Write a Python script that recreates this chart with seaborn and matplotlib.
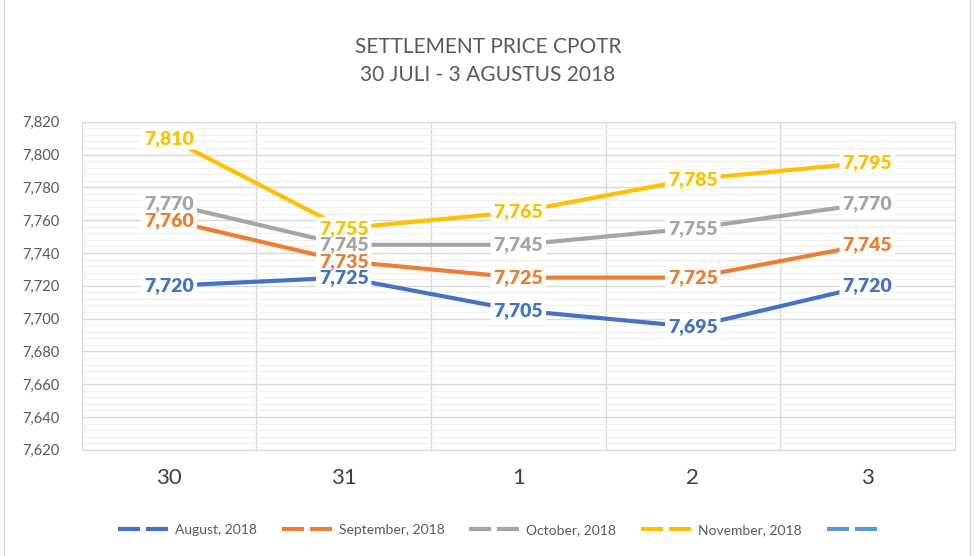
import numpy as np
import pandas as pd
import matplotlib.pyplot as plt
import seaborn as sns
from matplotlib.lines import Line2D
from matplotlib.patches import Rectangle

# Data
days = ['30', '31', '1', '2', '3']
august = [7720, 7725, 7705, 7695, 7720]
september = [7760, 7735, 7725, 7725, 7745]
october = [7770, 7745, 7745, 7755, 7770]
november = [7810, 7755, 7765, 7785, 7795]
series_names = ['August, 2018', 'September, 2018', 'October, 2018', 'November, 2018']
colors = ['#4472C4', '#ED7D31', '#A5A5A5', '#FFC000']

rows = []
for name, vals in zip(series_names, [august, september, october, november]):
    for i, v in enumerate(vals):
        rows.append({'day': i, 'label': days[i], 'price': v, 'series': name})
df = pd.DataFrame(rows)

sns.set_style('white')
plt.rcParams['font.family'] = ['Lato', 'DejaVu Sans']

fig = plt.figure(figsize=(9.76, 5.56), dpi=100)
ax = fig.add_axes([0.084, 0.191, 0.894, 0.590])

sns.lineplot(data=df, x='day', y='price', hue='series', palette=colors,
             linewidth=3, ax=ax, legend=False, zorder=3)

# data labels: white boxes first, then the texts on top of all boxes
for name, col in zip(series_names, colors):
    sub = df[df['series'] == name]
    for _, r in sub.iterrows():
        ax.text(r['day'], r['price'], f"{r['price']:,}", color='white', alpha=0,
                fontsize=14, fontweight='bold', ha='center', va='center', zorder=4,
                bbox=dict(boxstyle='round,pad=0.15', fc='white', ec='none'))
for name, col in zip(series_names, colors):
    sub = df[df['series'] == name]
    for _, r in sub.iterrows():
        ax.text(r['day'], r['price'], f"{r['price']:,}", color=col, fontsize=14,
                fontweight='heavy', ha='center', va='center', zorder=5)

ax.set_xlim(-0.5, 4.5)
ax.set_ylim(7620, 7820)
ax.set_yticks(np.arange(7620, 7821, 20))
ax.set_yticklabels([f'{v:,}' for v in range(7620, 7821, 20)], fontsize=10.5, color='#595959')
ax.set_yticks(np.arange(7620, 7821, 4), minor=True)
ax.set_xticks(range(5))
ax.set_xticklabels(days, fontsize=16, color='#404040')
ax.set_xticks(np.arange(0.5, 4.5, 1), minor=True)
ax.tick_params(axis='both', which='both', length=0)
ax.tick_params(axis='y', pad=16)
ax.tick_params(axis='x', pad=13)
ax.grid(which='major', axis='y', color='#D9D9D9', linewidth=1)
ax.grid(which='minor', axis='y', color='#F0F0F0', linewidth=0.8)
ax.grid(which='minor', axis='x', color='#D9D9D9', linewidth=1)
ax.set_axisbelow(True)
for s in ax.spines.values():
    s.set_color('#D9D9D9')
ax.set_xlabel('')
ax.set_ylabel('')

fig.text(0.5, 0.915, 'SETTLEMENT PRICE CPOTR', ha='center', va='center',
         fontsize=15, color='#595959')
fig.text(0.5, 0.865, '30 JULI - 3 AGUSTUS 2018', ha='center', va='center',
         fontsize=15, color='#595959')

handles = [Line2D([0], [0], color=c, lw=3, ls=(0, (5.3, 1.4))) for c in colors]
handles.append(Line2D([0], [0], color='#5B9BD5', lw=3, ls=(0, (5.3, 1.4))))
fig.legend(handles, series_names + [''], loc='center', bbox_to_anchor=(0.513, 0.047),
           ncol=5, frameon=False, fontsize=10, handlelength=3.8, handletextpad=0.3,
           columnspacing=1.8, labelcolor='#595959')

fig.add_artist(Rectangle((0.004, -0.01), 0.99, 1.02, transform=fig.transFigure,
                         fill=False, ec='#D9D9D9', lw=1))

fig.savefig('out.png', dpi=100)
